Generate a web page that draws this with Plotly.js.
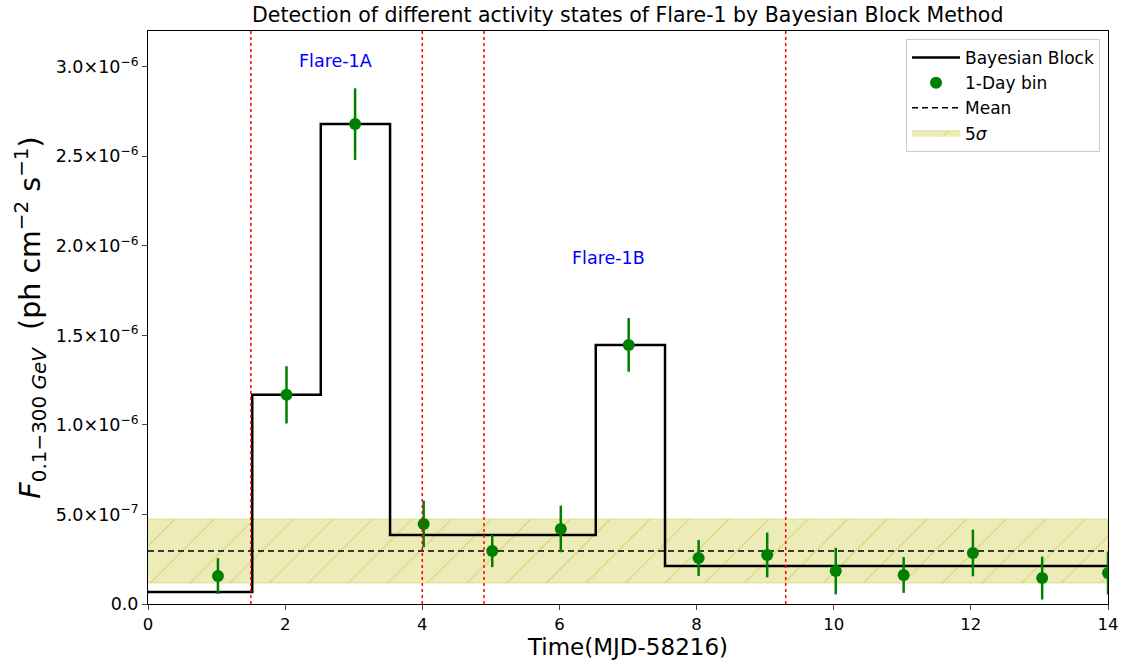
<!DOCTYPE html>
<html><head><meta charset="utf-8">
<script src="https://cdn.plot.ly/plotly-3.0.1.min.js"></script>
<style>body{margin:0;background:#fff}#c{width:1124px;height:671px}</style>
</head><body><div id="c"></div>
<script>
// Data (flux in units of 1e-6 ph cm^-2 s^-1)
const dayX = [1.02, 2.02, 3.02, 4.02, 5.02, 6.02, 7.01, 8.03, 9.03, 10.03, 11.02, 12.03, 13.04, 14.0];
const dayFlux = [0.156, 1.168, 2.68, 0.447, 0.296, 0.419, 1.447, 0.257, 0.274, 0.184, 0.162, 0.285, 0.145, 0.173];
const dayErr = [0.10, 0.16, 0.20, 0.13, 0.09, 0.13, 0.15, 0.10, 0.125, 0.13, 0.10, 0.13, 0.12, 0.12];
const blockEdges = [0, 1.52, 2.52, 3.53, 6.53, 7.54, 14];
const blockFlux = [0.067, 1.168, 2.68, 0.385, 1.447, 0.212, 0.212];
const meanFlux = 0.296;
const bandLow = 0.117, bandHigh = 0.475;
const changePoints = [1.5, 4.0, 4.9, 9.3];
const xRange = [0, 14];
const yTicks = [0, 0.5, 1.0, 1.5, 2.0, 2.5, 3.0];
const yTickText = ['0.0', '5.0×10<sup>−7</sup>', '1.0×10<sup>−6</sup>', '1.5×10<sup>−6</sup>', '2.0×10<sup>−6</sup>', '2.5×10<sup>−6</sup>', '3.0×10<sup>−6</sup>'];
const labels = [{text: 'Flare-1A', x: 2.73, y: 3.03}, {text: 'Flare-1B', x: 6.72, y: 1.93}];

const font = 'DejaVu Sans, sans-serif';
const traces = [
  {x: [xRange[0], xRange[1], xRange[1], xRange[0]], y: [bandLow, bandLow, bandHigh, bandHigh],
   fill: 'toself', mode: 'lines', line: {width: 1, color: 'rgba(188,189,34,0.35)'},
   fillcolor: 'rgba(200,198,60,0.38)',
   fillpattern: {shape: '/', fgcolor: 'rgba(190,190,40,0.55)', bgcolor: 'rgba(210,208,80,0.4)', size: 28, solidity: 0.04},
   name: '5<i>σ</i>', legendrank: 4, hoverinfo: 'skip'},
  {x: xRange, y: [meanFlux, meanFlux], mode: 'lines', line: {color: 'black', width: 1.5, dash: '6px,4px'}, name: 'Mean', legendrank: 3},
  {x: blockEdges, y: blockFlux, mode: 'lines', line: {shape: 'hv', color: 'black', width: 2.5}, name: 'Bayesian Block', legendrank: 1},
  {x: dayX, y: dayFlux, mode: 'markers', marker: {color: 'green', size: 12},
   error_y: {type: 'data', array: dayErr, color: 'green', thickness: 2.5, width: 0},
   name: '1-Day bin', legendrank: 2, cliponaxis: true}
];

const shapes = changePoints.map(cp => ({type: 'line', xref: 'x', yref: 'paper', x0: cp, x1: cp, y0: 0, y1: 1,
  line: {color: 'red', width: 1.5, dash: 'dot'}}));

const layout = {
  width: 1124, height: 671,
  margin: {l: 148, r: 16, t: 31, b: 67},
  paper_bgcolor: 'white', plot_bgcolor: 'white',
  font: {family: font, color: 'black', size: 16},
  title: {text: 'Detection of different activity states of Flare-1 by Bayesian Block Method', font: {size: 20.5}, x: 0.5585, xanchor: 'center', y: 0.978, yanchor: 'middle'},
  xaxis: {range: xRange, tickvals: [0, 2, 4, 6, 8, 10, 12, 14], ticks: 'outside', ticklen: 5, tickwidth: 1,
    showgrid: false, zeroline: false, showline: true, linecolor: 'black', linewidth: 1, mirror: true,
    tickfont: {size: 16.5}, title: {text: 'Time(MJD-58216)', font: {size: 23}, standoff: 6}},
  yaxis: {range: [0, 3.2], tickvals: yTicks, ticktext: yTickText, ticks: 'outside', ticklen: 5, tickwidth: 1,
    showgrid: false, zeroline: false, showline: true, linecolor: 'black', linewidth: 1, mirror: true,
    tickfont: {size: 17.5},
    title: {text: '<i>F</i><sub>0.1−300 <i>GeV</i></sub>  (ph cm<sup>−2</sup> s<sup>−1</sup>)', font: {size: 28.5}, standoff: 6}},
  legend: {x: 0.9917, xanchor: 'right', y: 0.986, yanchor: 'top', bordercolor: '#cccccc', borderwidth: 1,
    bgcolor: 'rgba(255,255,255,0.85)', font: {size: 17}, tracegroupgap: 0, itemwidth: 48},
  shapes: shapes,
  annotations: labels.map(l => ({x: l.x, y: l.y, text: l.text, showarrow: false, font: {color: 'blue', size: 17.5}})),
  showlegend: true
};
Plotly.newPlot('c', traces, layout, {displayModeBar: false, staticPlot: true});
</script></body></html>
